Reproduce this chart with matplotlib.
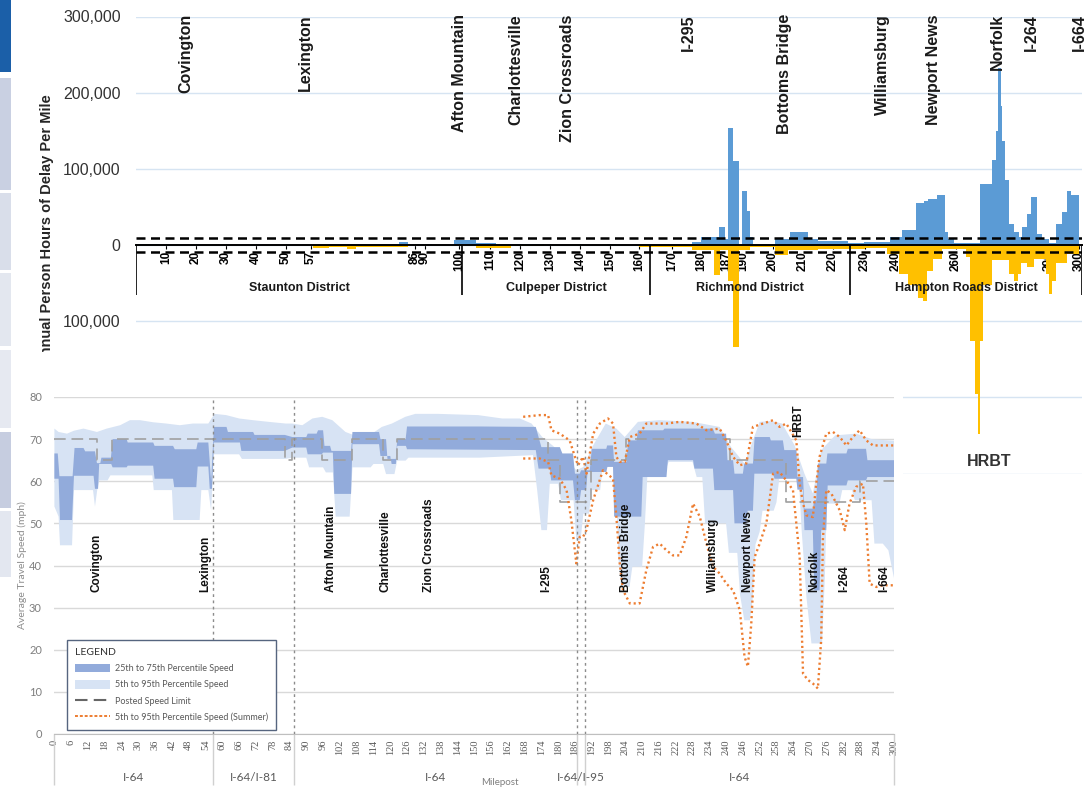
import numpy as np
import matplotlib.pyplot as plt
from matplotlib.patches import Patch, Rectangle
from matplotlib.lines import Line2D
from matplotlib.ticker import FuncFormatter

W, H = 1091, 790

# ---------------- top chart: annual person hours of delay per mile ----------------
# category axis of the original is not evenly spaced: milepost -> horizontal position
axis_mile = [0, 10, 20, 30, 40, 50, 57, 86, 90, 100, 110, 120, 130, 140, 150, 160,
             170, 180, 187, 190, 200, 210, 220, 230, 240, 250, 260, 270, 280, 290, 300, 301]
axis_px = [136, 166, 196, 226, 256, 286, 311, 415, 425, 459, 490, 520, 550, 580, 610, 639,
           672, 701, 726, 743, 773, 803, 833, 865, 896, 925, 956, 988, 1018, 1049, 1079, 1082]

top_ticks = [10, 20, 30, 40, 50, 57, 86, 90, 100, 110, 120, 130, 140, 150, 160, 170, 180,
             187, 190, 200, 210, 220, 230, 240, 250, 260, 270, 280, 290, 300]

districts = ["Staunton District", "Culpeper District", "Richmond District", "Hampton Roads District"]
district_edges = [0, 101, 163.3, 225.3, 301]

top_places = ["Covington", "Lexington", "Afton Mountain", "Charlottesville", "Zion Crossroads",
              "I-295", "Bottoms Bridge", "Williamsburg", "Newport News", "Norfolk", "I-264", "I-664"]
top_place_mile = [16.7, 55.3, 100.3, 118.7, 136, 175.7, 203.9, 235.8, 252.7, 273.1, 284.3, 300]

# peak period delay (blue, above zero)
blue_start = [0, 8, 62, 81.5, 84, 92, 98.5, 105.5, 112, 128,
              149, 152, 160, 166, 177, 180, 185, 186.6, 187.4, 188.3,
              189.3, 189.8, 191.3, 192.3, 193.3, 200.7, 205.8, 211.7, 215, 224.6,
              229.8, 238, 242, 247, 249.5, 251, 254, 256.5, 257.3, 259.5,
              267.5, 271.3, 272.6, 273.3, 274.2, 274.8, 275.8, 277, 278.8, 280.3,
              281.3, 283, 284.3, 286.2, 287.8, 290, 292.3, 294.3, 296, 297.3]
blue_delay = [1500, 0, 1500, 4000, 1000, 300, 6000, 3000, 1500, 500,
              1500, 500, 800, 1500, 3700, 11000, 23000, 8000, 153000, 110000,
              0, 71000, 44000, 10000, 1500, 8500, 17000, 7500, 5000, 2500,
              4000, 10000, 20000, 55000, 58000, 61000, 65000, 17000, 8000, 3000,
              80000, 111000, 150000, 232000, 183000, 137000, 85000, 28000, 17000, 10000,
              23000, 41000, 63000, 15000, 8000, 3000, 27000, 43000, 71000, 65000]

# opposite direction delay (gold, below zero)
gold_start = [0, 57.5, 62, 67, 69.5, 84, 105.5, 117, 128, 160,
              177, 183.7, 185.4, 187.4, 188.3, 189.3, 192.3, 200.7, 205, 215,
              230, 237, 241, 244, 247.7, 249.4, 250.6, 252.6, 255.5, 263,
              264.4, 266, 266.8, 267.6, 268.4, 271.3, 277, 278.5, 280, 281,
              283, 285, 289, 290, 291, 292.3, 296]
gold_delay = [0, -4000, -2500, -5500, -2500, -300, -3500, -1500, 0, -2000,
              -7000, -40000, -7000, -47000, -134000, -7000, -2000, -12500, -7000, -5000,
              -4000, -12000, -38000, -53000, -69000, -73000, -34000, -18000, -5000, -16000,
              -126000, -196000, -248000, -126000, -53000, -20000, -38000, -47000, -38000, -23000,
              -29000, -18000, -38000, -64000, -47000, -23000, -12000]

# ---------------- bottom chart: average travel speed ----------------
p95_mile = [0, 1.5, 4.5, 7, 10.4, 15.2, 18.7, 23.5, 27, 30.6,
            35.3, 40, 44.8, 49.5, 55, 57.2, 61.4, 66, 70.9,
            78, 82.7, 85, 88.6, 92.2, 95.7, 99.3, 104, 108.8, 113.5,
            117, 120.6, 125.4, 129, 137, 151.4, 160, 166.3, 170.5, 174.3,
            178, 183, 186.5, 189, 192.5, 197, 200.8, 203.8, 208.5, 216,
            228, 237.7, 241.8, 246.6, 252, 256, 260, 264.5, 268, 271,
            274, 279, 286.5, 292, 300]
p95 = [72.5, 71.7, 71.3, 72, 72.5, 71.7, 72.5, 73.3, 74.5, 74.5,
       74, 73.7, 73.3, 73.7, 73.7, 76, 75.7, 74.9, 74.5,
       74, 73.7, 73.7, 73.3, 74.9, 75.3, 74.5, 71.7, 70.5, 71.3,
       72.9, 73.7, 75.3, 76, 76, 75.7, 74.9, 74.9, 73.7, 70.5,
       68.5, 65.4, 62.6, 63.4, 68.5, 73.7, 72.5, 70.5, 74.1, 74.5,
       74.1, 72.9, 68.1, 64.2, 74.1, 74.3, 73.7, 68.5, 61.8, 57.1,
       67.4, 70.9, 71.3, 70, 69.6]

p5_mile = [0, 1.5, 2, 6.3, 7, 13.8, 14.5, 15.3, 16, 19,
           20, 35, 35.5, 42, 42.5, 51.9, 52.5, 55, 56, 57,
           66, 67, 82.5, 85, 90, 91, 96, 97, 99.5, 100.5,
           105.5, 106.5, 113, 114, 117.5, 118.5, 121.5, 122.5, 125.5, 126.5,
           152, 171, 172.5, 174, 176, 177, 180, 181, 185.5, 186.5,
           188, 189, 191, 192, 195, 196, 200.5, 201.5, 202.5, 205.5,
           206.5, 210, 211, 212, 218.5, 219.5, 228, 229.5, 231.5, 232.5,
           240, 241, 244, 245, 246.5, 248.5, 249.5, 250.5, 252, 253,
           257, 258, 259, 266, 267, 268.7, 270.5, 274.3, 275.3, 276,
           280.5, 281.5, 285, 286, 292, 293, 296, 298, 300]
p5 = [54, 51.6, 44.8, 44.8, 57.9, 57.9, 54, 57.9, 60.2, 60.2,
      61.4, 61.4, 57.9, 57.9, 50.8, 50.8, 57.9, 57.9, 53, 66.4,
      66.4, 65.3, 65.3, 65.6, 65.6, 63.3, 63.3, 62.1, 62.1, 51.6,
      51.6, 63.3, 63.3, 64.1, 64.1, 61.7, 61.7, 64.9, 64.9, 65.6,
      65.6, 66.2, 57.9, 48.4, 48.4, 59.4, 59.4, 55.5, 55.5, 46,
      46, 52.3, 52.3, 57.9, 57.9, 63.8, 63.8, 42, 34.9, 34.9,
      39.7, 39.7, 50, 63, 63, 64.6, 64.6, 61, 61, 50,
      50, 43, 43, 33, 27, 27, 32, 45, 48, 53,
      53, 55, 60.6, 60.6, 48.4, 32.6, 21.5, 21.5, 37.3, 54.7,
      54.7, 57.9, 57.9, 55.5, 55.5, 45.2, 45.2, 43.6, 37]

p75_mile = [0, 1.2, 1.8, 6.5, 7.2, 10.4, 11, 14.5, 15.2, 16.4,
            16.8, 20.2, 20.8, 25.8, 26.2, 35.3, 35.8, 42.4, 43, 50.7,
            51.2, 55, 56, 57, 61.5, 62, 71, 71.5, 82.3, 85,
            90, 90.5, 93.7, 94.2, 96, 96.5, 98.5, 99, 106, 106.5,
            116, 116.5, 118.5, 119, 122, 122.5, 125.5, 126, 152, 172,
            174, 180.6, 181.5, 185.3, 186, 187.7, 188.2, 191.3, 192, 197.2,
            197.5, 199.6, 200, 204.4, 205, 208, 208.5, 217.5, 218, 235.3,
            236, 240, 240.5, 242.5, 243, 246, 246.5, 249.6, 250.2, 255.6,
            256, 260.3, 260.8, 265.1, 265.5, 267.5, 268, 271, 271.5, 272.2,
            272.8, 275.8, 276.2, 283, 283.5, 290, 290.5, 300]
p75 = [66.6, 66.6, 61.2, 61.2, 67.9, 67.9, 67.1, 67.1, 64.3, 64.3,
       65.6, 65.6, 70, 70, 69.2, 69.2, 68.4, 68.4, 67.6, 67.6,
       69.2, 69.2, 60, 72.9, 72.9, 71.7, 71.7, 71, 71, 70.5,
       70.5, 71.3, 71.3, 72.1, 72.1, 68.4, 68.4, 67.2, 67.2, 71.7,
       71.7, 70, 70, 65.3, 65.3, 70, 70, 73, 73, 72.9,
       68.1, 68.1, 66.6, 66.6, 61.8, 61.8, 62.6, 62.6, 67.7, 67.7,
       68.5, 68.5, 64.6, 64.6, 69.7, 69.7, 72.1, 72.1, 72.5, 72.5,
       71.3, 71.3, 65, 65, 61.8, 61.8, 64.2, 64.2, 70.5, 70.5,
       69.7, 69.7, 67.4, 67.4, 61, 61, 53.5, 53.5, 55.5, 55.5,
       64.2, 64.2, 66.6, 66.6, 67.7, 67.7, 65, 65]

p25_mile = [0, 1.5, 2, 6.3, 7, 14, 14.5, 15.6, 16, 20.3,
            20.8, 25.8, 26.2, 35.3, 35.8, 42.4, 42.8, 50.7, 51.2, 55,
            55.5, 56.3, 57, 66.3, 66.8, 82.3, 85, 90, 90.5, 95.5,
            96, 99.5, 100, 106, 106.5, 116, 116.5, 120, 120.5, 122,
            122.5, 125.6, 126, 172, 173, 177, 177.5, 185.3, 186, 187.7,
            188.2, 190, 190.5, 197.2, 197.6, 199.6, 200, 209.7, 210.2, 218.7,
            219.2, 228.2, 228.7, 235.3, 235.8, 242.5, 243, 247.2, 247.7, 249.6,
            250.1, 256.8, 257.3, 265.1, 265.5, 267.5, 268, 271, 271.5, 273.4,
            274, 275.8, 276.3, 283, 283.5, 290, 290.5, 300]
p25 = [60.6, 60.6, 50.8, 50.8, 61.3, 61.3, 58.2, 58.2, 64.1, 64.1,
       63.3, 63.3, 63.7, 63.7, 60.6, 60.6, 58.6, 58.6, 63.5, 63.5,
       58.2, 58.2, 69.2, 69.2, 67.2, 67.2, 68, 68, 66.4, 66.4,
       66.8, 66.8, 57, 57, 68.8, 68.8, 66, 66, 64.1, 64.1,
       68.4, 68.4, 67.6, 67.4, 63, 63, 60.2, 60.2, 55.5, 55.5,
       57.9, 57.9, 62.2, 62.2, 63.4, 63.4, 51.6, 51.6, 61, 61,
       65, 65, 63, 63, 57.9, 57.9, 50, 50, 53, 53,
       61.8, 61.8, 60.6, 60.6, 58, 58, 48.4, 48.4, 34.1, 34.1,
       48.4, 48.4, 59, 59, 60.2, 60.2, 61, 61]

limit_mile = [0, 15.4, 20.5, 82.4, 85, 95.5, 106.2, 117.3, 122.4, 176.4, 180.6, 191.9,
              204.4, 241.3, 261.5, 287.7, 300]
limit_mph = [70, 65, 70, 65, 70, 65, 70, 65, 70, 65, 55, 65, 70, 65, 55, 60, 60]

summer95_mile = [167.5, 173.4, 176.4, 177.6, 180.6, 184.1, 186, 187.1, 188.9, 190.1,
                 192.5, 194.9, 197.8, 199.6, 200.8, 202, 203.8, 205.6, 209.1, 211.5,
                 218.7, 223.4, 229.4, 233, 237.7, 240, 242.5, 244.9, 247.2, 249.6,
                 253.2, 256.8, 259.1, 261.5, 265.1, 266.3, 267.5, 268.7, 271, 272.2,
                 273.4, 275.8, 278.2, 280.6, 283, 285.3, 287.7, 290.1, 292.5, 300]
summer95 = [75.3, 75.7, 75.7, 72.1, 71.3, 69.7, 65.8, 63.8, 65.8, 61.8,
            71.3, 73.7, 74.9, 73.7, 65.8, 64.6, 64.6, 70.5, 71.3, 73.7,
            73.7, 74.1, 73.7, 72.1, 72.5, 69.7, 65.8, 63.8, 64.2, 72.9,
            73.7, 74.5, 72.9, 73.7, 69.7, 59.4, 54.7, 51.9, 51.5, 59.4,
            65.8, 71.3, 71.7, 70.5, 68.5, 70.5, 72.1, 69.7, 68.5, 68.5]

summer5_mile = [167.5, 173.4, 176.4, 177.6, 180.6, 183, 184.7, 186.5, 187.7, 188.9,
                190.1, 192.5, 196, 199.6, 200.8, 202, 203.2, 205.6, 209.1, 211.5,
                213.9, 216.3, 218.7, 221, 223.4, 225.8, 228.2, 230.6, 233, 235.3,
                237.7, 240.1, 242.5, 244.9, 246.6, 247.8, 249, 250.2, 252, 254.4,
                256.8, 259.1, 261.5, 263.9, 266.3, 267.5, 269.3, 271, 272.8, 274,
                274.6, 275.8, 277.6, 280.6, 282.4, 284.1, 286.5, 288.9, 290.1, 291.3,
                293.7, 296, 300]
summer5 = [65.4, 65.4, 64.6, 61.4, 60.6, 57.9, 50.8, 40.5, 46.8, 46.8,
           48.4, 55.5, 62.6, 60.6, 51.6, 40.5, 34.1, 31, 31, 38.9,
           44.4, 45.2, 43.6, 42.4, 42.4, 46.8, 54.7, 51.6, 45.2, 39.7,
           38.1, 35.7, 34.1, 29.4, 18.3, 16, 26.2, 42, 45.2, 50,
           61.8, 62.2, 60.2, 57.9, 42, 14.3, 12.8, 12, 10.8, 22.5,
           46.3, 57.9, 57.1, 53.1, 48.4, 54.7, 58.7, 59.4, 50, 35.7,
           34.9, 35.3, 35.3]

bottom_places = ["Covington", "Lexington", "Afton Mountain", "Charlottesville", "Zion Crossroads",
                 "I-295", "Bottoms Bridge", "Williamsburg", "Newport News", "Norfolk", "I-264", "I-664"]
bottom_place_mile = [15, 53.8, 99, 118.4, 134, 175.8, 204.4, 235.3, 247.8, 271.6, 282.3, 296.6]

route_names = ["I-64", "I-64/I-81", "I-64", "I-64/I-95", "I-64"]
route_edges = [0, 56.8, 85.7, 186.9, 189.6, 300]


def px_box(x0, y0, x1, y1):
    return [x0 / W, 1 - y1 / H, (x1 - x0) / W, (y1 - y0) / H]


def fwd(m):
    return np.interp(m, axis_mile, axis_px)


def inv(p):
    return np.interp(p, axis_px, axis_mile)


fig = plt.figure(figsize=(W / 100, H / 100), dpi=100)

# ---------------- top chart ----------------
ax1 = fig.add_axes(px_box(136, 16.5, 1082, 473.5), zorder=1)
ax1.set_xscale('function', functions=(fwd, inv))
ax1.set_xlim(0, 301)
ax1.set_ylim(-300000, 300000)

ax1.stairs(blue_delay, blue_start + [300], baseline=0, fill=True, color='#5b9bd5', lw=0, zorder=2)
ax1.stairs(gold_delay, gold_start + [300], baseline=0, fill=True, color='#ffc000', lw=0, zorder=2)
for lvl in (9000, -9000):
    ax1.axhline(lvl, color='black', lw=1.8, ls=(0, (3.6, 2.2)), zorder=4)

for s in ('top', 'right', 'left'):
    ax1.spines[s].set_visible(False)
ax1.spines['bottom'].set_position(('data', 0))
ax1.spines['bottom'].set_linewidth(1.4)
ax1.spines['bottom'].set_zorder(3)

ax1.set_yticks(np.arange(-300000, 300001, 100000))
ax1.yaxis.set_major_formatter(FuncFormatter(lambda v, p: f"{abs(v):,.0f}"))
ax1.grid(axis='y', color='#d6e4f2', lw=1)
ax1.set_axisbelow(True)
ax1.tick_params(axis='y', length=0, pad=11, labelsize=11.5, labelcolor='#333333')
for t in ax1.get_yticklabels():
    t.set_family('Liberation Sans')

ax1.set_xticks(top_ticks)
ax1.set_xticklabels([str(t) for t in top_ticks], rotation=90, fontweight='bold',
                    fontsize=8.5, family='Liberation Sans')
ax1.xaxis.set_minor_locator(plt.NullLocator())
ax1.tick_params(axis='x', direction='out', length=3, width=0.8, pad=1.5)

ax1.vlines(district_edges, -66000, 0, color='black', lw=1.2, zorder=3)
for i, name in enumerate(districts):
    mid = inv((fwd(district_edges[i]) + fwd(district_edges[i + 1])) / 2)
    ax1.text(mid, -57000, name, ha='center', va='center', fontsize=9, fontweight='bold',
             family='Liberation Sans', color='#1a1a1a', zorder=5)

for name, m in zip(top_places, top_place_mile):
    ax1.text(m, 303000, name, rotation=90, ha='center', va='top', fontsize=11.5,
             fontweight='bold', family='Liberation Sans', color='#1a1a1a', clip_on=False)

fig.text(47 / W, 1 - 230 / H, "Annual Person Hours of Delay Per Mile", rotation=90,
         ha='center', va='center', fontsize=10.5, fontweight='bold', family='Liberation Sans',
         color='#262626', zorder=0.5)

fig.text(989 / W, 1 - 461 / H, "HRBT", ha='center', va='center', fontsize=11.5,
         fontweight='bold', family='Liberation Sans', color='#333333', zorder=6)

# white panel that holds the speed chart (covers the lower part of the delay chart)
panel = fig.add_axes(px_box(0, 352, 903, 790), zorder=2)
panel.set_xticks([])
panel.set_yticks([])
for s in panel.spines.values():
    s.set_visible(False)
panel.set_facecolor('white')

# ---------------- bottom chart ----------------
ax2 = fig.add_axes(px_box(54.4, 397, 894, 734), zorder=3)
ax2.set_xlim(0, 300)
ax2.set_ylim(0, 80)

ax2.fill(np.r_[p95_mile, p5_mile[::-1]], np.r_[p95, p5[::-1]], color='#d7e3f4', lw=0, zorder=1)
ax2.fill(np.r_[p75_mile, p25_mile[::-1]], np.r_[p75, p25[::-1]], color='#92abdb', lw=0, zorder=2)
ax2.step(limit_mile, limit_mph, where='post', color='#a0a0a0', lw=1.2, ls=(0, (7, 3.5)), zorder=3)
ax2.plot(summer95_mile, summer95, color='#ed7d31', lw=1.7, ls=(0, (0.9, 1.3)), zorder=4)
ax2.plot(summer5_mile, summer5, color='#ed7d31', lw=1.7, ls=(0, (0.9, 1.3)), zorder=4)
for m in route_edges[1:-1]:
    ax2.axvline(m, color='#8c8c8c', lw=1, ls=(0, (2, 2.5)), zorder=5)

ax2.set_yticks(np.arange(0, 81, 10))
ax2.grid(axis='y', color='#d9d9d9', lw=1)
ax2.set_axisbelow(True)
ax2.tick_params(axis='y', length=0, pad=9, labelsize=8, labelcolor='#7f7f7f')
for t in ax2.get_yticklabels():
    t.set_family('Lato')
ax2.set_xticks(np.arange(0, 301, 6))
ax2.set_xticklabels([str(v) for v in range(0, 301, 6)], rotation=90, fontsize=7.5,
                    family='Liberation Serif', color='#595959')
ax2.tick_params(axis='x', length=0, pad=4)
for s in ('top', 'right', 'left'):
    ax2.spines[s].set_visible(False)
ax2.spines['bottom'].set_color('#bfbfbf')

xt = ax2.get_xaxis_transform()
ax2.vlines(route_edges, -0.151, 0, transform=xt, color='#d0d0d0', lw=1, clip_on=False)
for i, name in enumerate(route_names):
    mid = (route_edges[i] + route_edges[i + 1]) / 2
    ax2.text(mid, -0.128, name, transform=xt, ha='center', va='center', fontsize=8.5,
             family='Lato', color='#595959')
ax2.text(0.531, -0.145, "Milepost", transform=ax2.transAxes, ha='center', va='center',
         fontsize=7, family='Lato', color='#7f7f7f')
ax2.text(-0.0388, 0.5015, "Average Travel Speed (mph)", transform=ax2.transAxes, rotation=90,
         ha='center', va='center', fontsize=7.5, family='Lato', color='#8c8c8c')

for name, m in zip(bottom_places, bottom_place_mile):
    ax2.text(m, 33.8, name, rotation=90, ha='center', va='bottom', fontsize=8.5,
             fontweight='bold', family='Liberation Sans', color='#111111', zorder=6)
ax2.text(265.7, 70.4, "HRBT", rotation=90, ha='center', va='bottom', fontsize=8.5,
         fontweight='bold', family='Liberation Sans', color='#111111', zorder=6)

handles = [Patch(facecolor='#92abdb', edgecolor='none'),
           Patch(facecolor='#d7e3f4', edgecolor='none'),
           Line2D([], [], color='#666666', lw=1.5, ls=(0, (6, 3))),
           Line2D([], [], color='#ed7d31', lw=1.4, ls=(0, (1.5, 1)))]
labels = ["25th to 75th Percentile Speed", "5th to 95th Percentile Speed",
          "Posted Speed Limit", "5th to 95th Percentile Speed (Summer)"]
leg = ax2.legend(handles, labels, title="LEGEND", loc='lower left', bbox_to_anchor=(0.0147, 0.012),
                 borderaxespad=0, frameon=True, fancybox=False, edgecolor='#56657f',
                 prop={'family': 'Lato', 'size': 6.5}, title_fontproperties={'family': 'Lato', 'size': 7.5},
                 alignment='left', handlelength=3.9, handleheight=1.1, labelspacing=0.75,
                 borderpad=0.9, handletextpad=0.5, framealpha=1)
leg.get_frame().set_linewidth(1.0)
leg.set_zorder(7)
for t in leg.get_texts():
    t.set_color('#595959')
leg.get_title().set_color('#333333')

# slide side bar
side_boxes = [(0, 72, '#1b5fa8'), (78, 190, '#c9d0e2'), (193, 270, '#d9deea'),
              (273, 346, '#e3e7ef'), (350, 428, '#e6e9f1'), (432, 508, '#c6cde0'),
              (511, 577, '#e3e7f0')]
for y0, y1, c in side_boxes:
    fig.add_artist(Rectangle((0, 1 - y1 / H), 11 / W, (y1 - y0) / H, transform=fig.transFigure,
                             facecolor=c, edgecolor='none', zorder=6))

fig.savefig("out.png", dpi=100)
